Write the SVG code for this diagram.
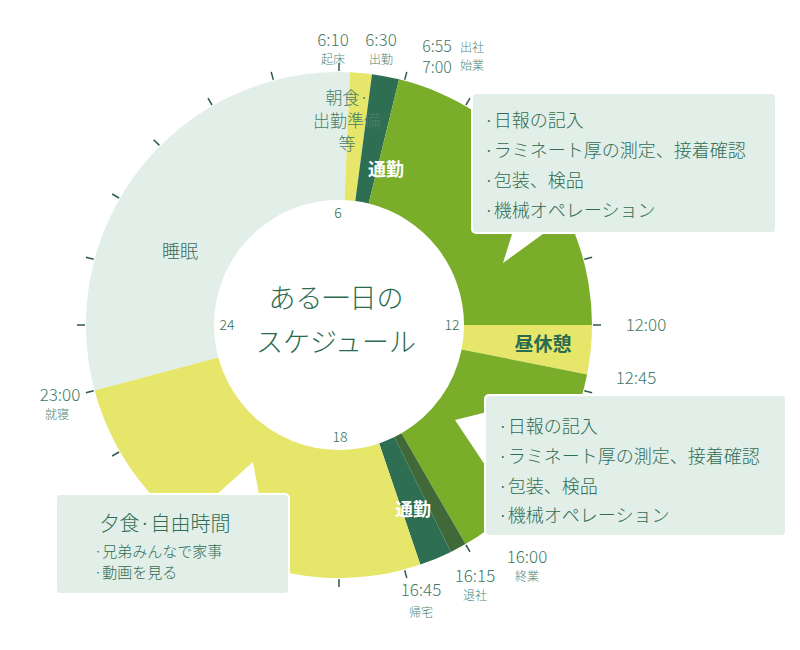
<svg xmlns="http://www.w3.org/2000/svg" width="800" height="650" viewBox="0 0 800 650">
<style>
text{font-family:"Noto Sans CJK JP","Liberation Sans",sans-serif;fill:#2f6d55;font-weight:300}
.t{font-size:17px;fill:#3f7a66;text-anchor:middle}
.s{font-size:12px;fill:#4f8575;text-anchor:middle}
.n{font-size:14px;fill:#2f6d55;text-anchor:middle}
.c{font-size:18px;fill:#2f6d55}
.box{fill:#e2efe8;stroke:#fff;stroke-width:2}
.tick{stroke:#2f5a4a;stroke-width:1.5}
</style>
<rect width="800" height="650" fill="#fff"/>
<g id="segments">
<path id="sleep" d="M94.6,390.5 A253,253 0 0 1 350,72.2 L344.5,200.1 A125,125 0 0 0 218.3,357.4 Z" fill="#e2efe8"/>
<path id="breakfast" d="M350,72.2 A253,253 0 0 1 372,74.2 L355.3,201.1 A125,125 0 0 0 344.5,200.1 Z" fill="#e5e66a"/>
<path id="commute1" d="M372,74.2 A253,253 0 0 1 399.1,79.3 L368.7,203.6 A125,125 0 0 0 355.3,201.1 Z" fill="#2e6e52"/>
<path id="work1" d="M399.1,79.3 A253,253 0 0 1 592,325 L464,325 A125,125 0 0 0 368.7,203.6 Z" fill="#7aae2a"/>
<path id="lunch" d="M592,325 A253,253 0 0 1 587.1,374.4 L461.6,349.4 A125,125 0 0 0 464,325 Z" fill="#e5e66a"/>
<path id="work2" d="M587.1,374.4 A253,253 0 0 1 465.5,544.1 L401.5,433.3 A125,125 0 0 0 461.6,349.4 Z" fill="#7aae2a"/>
<path id="leave" d="M465.5,544.1 A253,253 0 0 1 450.9,551.9 L394.3,437.1 A125,125 0 0 0 401.5,433.3 Z" fill="#40693a"/>
<path id="commute2" d="M450.9,551.9 A253,253 0 0 1 420.3,564.6 L379.2,443.4 A125,125 0 0 0 394.3,437.1 Z" fill="#2e6e52"/>
<path id="evening" d="M420.3,564.6 A253,253 0 0 1 94.6,390.5 L218.3,357.4 A125,125 0 0 0 379.2,443.4 Z" fill="#e5e66a"/>
</g>
<g id="ticks" class="tick">
<line x1="339" y1="71" x2="339" y2="63"/><line x1="404.7" y1="79.7" x2="406.8" y2="71.9"/><line x1="466" y1="105" x2="470" y2="98.1"/><line x1="518.6" y1="145.4" x2="524.3" y2="139.7"/><line x1="558.9" y1="198" x2="565.9" y2="194"/><line x1="584.3" y1="259.3" x2="592.1" y2="257.2"/><line x1="593" y1="325" x2="601" y2="325"/><line x1="584.3" y1="390.7" x2="592.1" y2="392.8"/><line x1="558.9" y1="452" x2="565.9" y2="456"/><line x1="518.6" y1="504.6" x2="524.3" y2="510.3"/><line x1="466" y1="545" x2="470" y2="551.9"/><line x1="404.7" y1="570.3" x2="406.8" y2="578.1"/><line x1="339" y1="579" x2="339" y2="587"/><line x1="273.3" y1="570.3" x2="271.2" y2="578.1"/><line x1="212" y1="545" x2="208" y2="551.9"/><line x1="159.4" y1="504.6" x2="153.7" y2="510.3"/><line x1="119.1" y1="452" x2="112.1" y2="456"/><line x1="93.7" y1="390.7" x2="85.9" y2="392.8"/><line x1="85" y1="325" x2="77" y2="325"/><line x1="93.7" y1="259.3" x2="85.9" y2="257.2"/><line x1="119.1" y1="198" x2="112.1" y2="194"/><line x1="159.4" y1="145.4" x2="153.7" y2="139.7"/><line x1="212" y1="105" x2="208" y2="98.1"/><line x1="273.3" y1="79.7" x2="271.2" y2="71.9"/>
</g>
<g id="center">
<text class="n" x="338" y="218">6</text><text class="n" x="452" y="330">12</text><text class="n" x="340" y="442">18</text><text class="n" x="227" y="330">24</text>
<text x="336" y="308" style="font-size:27px;text-anchor:middle;fill:#2a6b50">ある一日の</text>
<text x="336" y="352" style="font-size:27px;text-anchor:middle;fill:#2a6b50">スケジュール</text>
</g>
<g id="seg-labels">
<text x="180" y="258" style="font-size:18px;fill:#3d6b5a;text-anchor:middle">睡眠</text>
<text x="347" y="104" style="font-size:17px;fill:#4a7d6c;text-anchor:middle">朝食·</text>
<text x="347" y="127" style="font-size:17px;fill:#4a7d6c;text-anchor:middle">出勤準備</text>
<text x="347" y="150" style="font-size:17px;fill:#4a7d6c;text-anchor:middle">等</text>
<text x="386" y="176" style="font-size:18px;fill:#fff;font-weight:bold;text-anchor:middle">通勤</text>
<text x="413" y="516" style="font-size:18px;fill:#fff;font-weight:bold;text-anchor:middle">通勤</text>
<text x="543" y="351" style="font-size:19px;fill:#2a6b50;font-weight:bold;text-anchor:middle">昼休憩</text>
</g>
<g id="time-labels">
<text class="t" x="333" y="46">6:10</text><text class="s" x="333" y="64">起床</text>
<text class="t" x="381" y="46">6:30</text><text class="s" x="381" y="64">出勤</text>
<text class="t" x="437" y="52" style="font-size:16px">6:55</text><text class="t" x="437" y="73" style="font-size:16px">7:00</text>
<text class="s" x="472" y="52">出社</text><text class="s" x="472" y="70">始業</text>
<text class="t" x="646" y="331">12:00</text><text class="t" x="636" y="384">12:45</text>
<text class="t" x="527" y="563">16:00</text><text class="s" x="527" y="581">終業</text>
<text class="t" x="475" y="582">16:15</text><text class="s" x="475" y="600">退社</text>
<text class="t" x="421" y="596">16:45</text><text class="s" x="421" y="617">帰宅</text>
<text class="t" x="60" y="401">23:00</text><text class="s" x="57" y="419">就寝</text>
</g>
<g id="callout-work1">
<polygon points="513,231 547,231 503,263" fill="#fff"/>
<rect class="box" x="472" y="93" width="304" height="140" rx="4"/>
<text class="c" x="484" y="127">·日報の記入</text>
<text class="c" x="484" y="157">·ラミネート厚の測定、接着確認</text>
<text class="c" x="484" y="187">·包装、検品</text>
<text class="c" x="484" y="217">·機械オペレーション</text>
</g>
<g id="callout-work2">
<polygon points="487,412 487,468 455,420" fill="#fff"/>
<rect class="box" x="485" y="395" width="301" height="141" rx="4"/>
<text class="c" x="498" y="433">·日報の記入</text>
<text class="c" x="498" y="463">·ラミネート厚の測定、接着確認</text>
<text class="c" x="498" y="493">·包装、検品</text>
<text class="c" x="498" y="522">·機械オペレーション</text>
</g>
<g id="callout-evening">
<polygon points="216,495 259,495 253,462" fill="#fff"/>
<rect class="box" x="56" y="494" width="233" height="100" rx="4"/>
<text x="165" y="531" style="font-size:20px;text-anchor:middle">夕食·自由時間</text>
<text x="94" y="557" style="font-size:15px">·兄弟みんなで家事</text>
<text x="94" y="578" style="font-size:15px">·動画を見る</text>
</g>
</svg>
